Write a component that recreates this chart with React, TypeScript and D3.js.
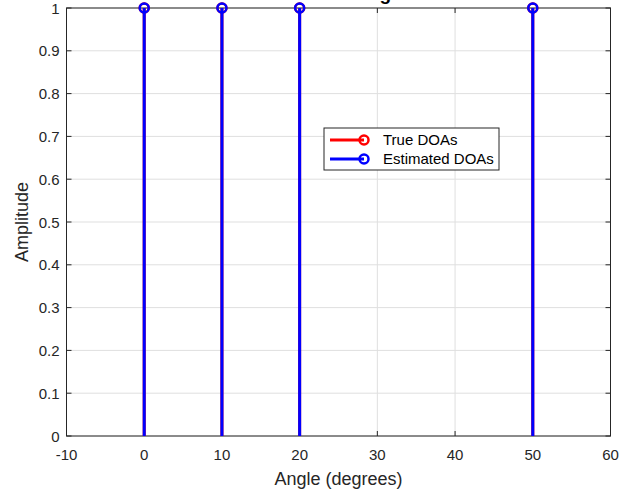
import React from "react";
import * as d3 from "d3";

const trueDOAs = [0, 10, 20, 50];
const trueAmps = [1, 1, 1, 1];
const estDOAs = [0, 10, 20, 50];
const estAmps = [1, 1, 1, 1];
const xTicks = [-10, 0, 10, 20, 30, 40, 50, 60];
const yTicks = [0, 0.1, 0.2, 0.3, 0.4, 0.5, 0.6, 0.7, 0.8, 0.9, 1];
const legendLabels = ["True DOAs", "Estimated DOAs"];
const titleText = "DOA Estimation using CS";

const W = 639, H = 493;
const M = { left: 66.5, right: 610.5, top: 8, bottom: 436 };
const FONT = "'Liberation Sans', Arial, Helvetica, sans-serif";

export default function App() {
  const x = d3.scaleLinear().domain([-10, 60]).range([M.left, M.right]);
  const y = d3.scaleLinear().domain([0, 1]).range([M.bottom, M.top]);
  const series = [
    { xs: trueDOAs, ys: trueAmps, color: "#ff0000" },
    { xs: estDOAs, ys: estAmps, color: "#0000ff" },
  ];
  const lx = 324, ly = 128, lw = 175, lh = 42;
  return (
    <svg width={W} height={H} style={{ position: "absolute", left: 0, top: 0, background: "#fff" }} fontFamily={FONT}>
      <rect x={0} y={0} width={W} height={H} fill="#fff" />
      <text x={307} y={-0.5} textAnchor="middle" fontSize={19} fontWeight="bold" fill="#000">{titleText}</text>
      <rect x={M.left} y={M.top} width={M.right - M.left} height={M.bottom - M.top} fill="#fff" />
      {xTicks.map((t) => (
        <line key={"gx" + t} x1={x(t)} x2={x(t)} y1={M.top} y2={M.bottom} stroke="#dfdfdf" strokeWidth={1} />
      ))}
      {yTicks.map((t) => (
        <line key={"gy" + t} x1={M.left} x2={M.right} y1={y(t)} y2={y(t)} stroke="#dfdfdf" strokeWidth={1} />
      ))}
      {xTicks.map((t) => (
        <g key={"tx" + t}>
          <line x1={x(t)} x2={x(t)} y1={M.bottom} y2={M.bottom - 5} stroke="#262626" />
          <line x1={x(t)} x2={x(t)} y1={M.top} y2={M.top + 5} stroke="#262626" />
          <text x={x(t)} y={M.bottom + 24} textAnchor="middle" fontSize={15} fill="#262626">{t}</text>
        </g>
      ))}
      {yTicks.map((t) => (
        <g key={"ty" + t}>
          <line x1={M.left} x2={M.left + 5} y1={y(t)} y2={y(t)} stroke="#262626" />
          <line x1={M.right} x2={M.right - 5} y1={y(t)} y2={y(t)} stroke="#262626" />
          <text x={M.left - 7} y={y(t) + 5.5} textAnchor="end" fontSize={15} fill="#262626">{d3.format("")(t)}</text>
        </g>
      ))}
      <rect x={M.left} y={M.top} width={M.right - M.left} height={M.bottom - M.top} fill="none" stroke="#262626" strokeWidth={1} />
      {series.map((s, si) => (
        <g key={"s" + si}>
          {s.xs.map((v, i) => (
            <g key={i}>
              <line x1={x(v)} x2={x(v)} y1={y(0)} y2={y(s.ys[i])} stroke={s.color} strokeWidth={3} />
              <circle cx={x(v)} cy={y(s.ys[i])} r={4.5} fill="none" stroke={s.color} strokeWidth={2.5} />
            </g>
          ))}
        </g>
      ))}
      <text x={(M.left + M.right) / 2} y={485} textAnchor="middle" fontSize={18} fill="#262626">Angle (degrees)</text>
      <text transform={`translate(28,${(M.top + M.bottom) / 2}) rotate(-90)`} textAnchor="middle" fontSize={18} fill="#262626">Amplitude</text>
      <g>
        <rect x={lx} y={ly} width={lw} height={lh} fill="#fff" stroke="#262626" strokeWidth={1} />
        {legendLabels.map((lab, i) => {
          const cy = ly + 12 + i * 19;
          const c = series[i].color;
          return (
            <g key={lab}>
              <line x1={lx + 6} x2={lx + 40} y1={cy} y2={cy} stroke={c} strokeWidth={3} />
              <circle cx={lx + 40} cy={cy} r={4.5} fill="none" stroke={c} strokeWidth={2.5} />
              <text x={lx + 59} y={cy + 5} fontSize={15} fill="#000">{lab}</text>
            </g>
          );
        })}
      </g>
    </svg>
  );
}
